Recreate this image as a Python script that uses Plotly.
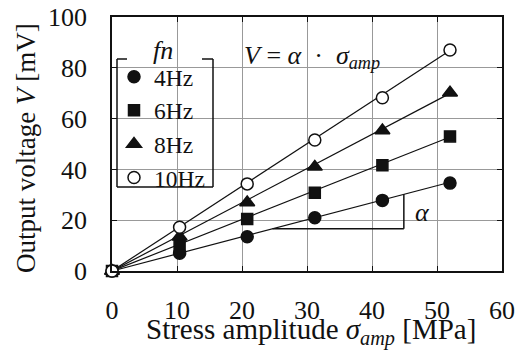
import plotly.graph_objects as go

# ---- data ----
stress = [0, 10.4, 20.8, 31.2, 41.6, 52.0]
series_names = ["4Hz", "6Hz", "8Hz", "10Hz"]
v_4hz = [0, 7.0, 13.5, 21.0, 27.8, 34.6]
v_6hz = [0, 10.3, 20.5, 30.8, 41.6, 53.0]
v_8hz = [0, 13.5, 27.0, 41.0, 55.3, 70.2]
v_10hz = [0, 17.2, 34.3, 51.6, 68.2, 87.0]
alpha_slopes = [0.672, 1.015, 1.345, 1.67]   # fitted V = alpha * sigma
x_ticks = [0, 10, 20, 30, 40, 50, 60]
y_ticks = [0, 20, 40, 60, 80, 100]

FONT = '"Liberation Serif", "Times New Roman", Times, serif'
FS = 26
BLACK = "#111111"

series_vals = [v_4hz, v_6hz, v_8hz, v_10hz]
symbols = ["circle", "square", "triangle-up", "circle"]
sizes = [12, 11, 13, 12]
fills = [BLACK, BLACK, BLACK, "white"]

fig = go.Figure()

# fit lines
x_end = stress[-1]
for name, a in zip(series_names, alpha_slopes):
    fig.add_trace(go.Scatter(x=[0, x_end], y=[0, a * x_end], mode="lines",
                             line=dict(color=BLACK, width=1.2),
                             showlegend=False, hoverinfo="skip"))

# markers
for name, vals, sym, sz, fc in zip(series_names, series_vals, symbols, sizes, fills):
    fig.add_trace(go.Scatter(x=stress, y=vals, mode="markers", name=name,
                             cliponaxis=False,
                             marker=dict(symbol=sym, size=sz, color=fc,
                                         line=dict(color=BLACK, width=1.5))))

L, R, T, B = 112, 19, 17, 85
PW, PH = 521 - L - R, 356 - T - B

def px2paper_x(px):
    return (px - L) / PW

def px2paper_y(py):
    return (356 - B - py) / PH

shapes = []
# white masks (equation area and legend area) drawn between grid and traces
shapes.append(dict(type="rect", xref="paper", yref="paper",
                   x0=px2paper_x(114), x1=px2paper_x(408),
                   y0=px2paper_y(77), y1=px2paper_y(22),
                   fillcolor="white", line=dict(width=0), layer="between"))
shapes.append(dict(type="rect", xref="paper", yref="paper",
                   x0=px2paper_x(117), x1=px2paper_x(213),
                   y0=px2paper_y(187), y1=px2paper_y(59),
                   fillcolor="white", line=dict(width=0), layer="between"))
# legend border with a gap for its title
lx0, lx1, ly0, ly1 = px2paper_x(117), px2paper_x(213), px2paper_y(187), px2paper_y(59)
gap0, gap1 = px2paper_x(127), px2paper_x(202)
for seg in [(lx0, ly0, lx0, ly1), (lx1, ly0, lx1, ly1), (lx0, ly0, lx1, ly0),
            (lx0, ly1, gap0, ly1), (gap1, ly1, lx1, ly1)]:
    shapes.append(dict(type="line", xref="paper", yref="paper",
                       x0=seg[0], y0=seg[1], x1=seg[2], y1=seg[3],
                       line=dict(color=BLACK, width=1.5), layer="above"))

# slope triangle on the 4 Hz line
a4 = alpha_slopes[0]
tri_x0, tri_x1 = 24.7, 44.9
shapes.append(dict(type="line", x0=tri_x0, y0=a4 * tri_x0, x1=tri_x1, y1=a4 * tri_x0,
                   line=dict(color=BLACK, width=1.5)))
shapes.append(dict(type="line", x0=tri_x1, y0=a4 * tri_x0, x1=tri_x1, y1=a4 * tri_x1,
                   line=dict(color=BLACK, width=1.5)))

NB = "\u00a0"
annotations = [
    dict(x=px2paper_x(163), y=px2paper_y(51), xref="paper", yref="paper",
         xanchor="center", yanchor="middle",
         text="<i>fn</i>", showarrow=False, font=dict(family=FONT, size=FS, color=BLACK)),
    dict(x=30.8, y=84.2, xanchor="center", yanchor="middle",
         text=f"<i>V</i>{NB}={NB}<i>α</i>{NB}{NB}·{NB}{NB}<i>σ</i><sub><i>amp</i></sub>",
         showarrow=False, font=dict(family=FONT, size=FS, color=BLACK)),
    dict(x=47.7, y=23.0, xanchor="center", yanchor="middle", text="<i>α</i>",
         showarrow=False, font=dict(family=FONT, size=FS, color=BLACK)),
    # axis titles
    dict(x=px2paper_x(311), y=px2paper_y(331), xref="paper", yref="paper",
         xanchor="center", yanchor="middle", showarrow=False,
         text="Stress amplitude <i>σ</i><sub><i>amp</i></sub> [MPa]",
         font=dict(family=FONT, size=29, color=BLACK)),
    dict(x=px2paper_x(26), y=px2paper_y(148), xref="paper", yref="paper",
         xanchor="center", yanchor="middle", showarrow=False, textangle=-90,
         text="Output voltage <i>V</i> [mV]",
         font=dict(family=FONT, size=27, color=BLACK)),
]

axis_common = dict(showline=True, linecolor=BLACK, linewidth=1.5, mirror="ticks",
                   ticks="inside", ticklen=5, tickwidth=1.2, tickcolor=BLACK,
                   showgrid=True, gridcolor="#999999", gridwidth=1, zeroline=False,
                   automargin=False,
                   tickfont=dict(family=FONT, size=FS, color=BLACK))

fig.update_layout(
    width=521, height=356,
    margin=dict(l=L, r=R, t=T, b=B, autoexpand=False),
    paper_bgcolor="white", plot_bgcolor="white",
    font=dict(family=FONT, size=FS, color=BLACK),
    xaxis=dict(range=[0, 60], tickvals=x_ticks, ticklabelstandoff=15, **axis_common),
    yaxis=dict(range=[0, 100], tickvals=y_ticks, ticklabelstandoff=18, **axis_common),
    legend=dict(x=px2paper_x(114), y=px2paper_y(55), xanchor="left", yanchor="top",
                bgcolor="rgba(0,0,0,0)", borderwidth=0,
                font=dict(family=FONT, size=23.5, color=BLACK),
                tracegroupgap=0, itemwidth=30),
    shapes=shapes, annotations=annotations,
    showlegend=True,
)

fig.write_html("out.html", config={"displayModeBar": False},
               post_script="document.body.style.margin='0';")
